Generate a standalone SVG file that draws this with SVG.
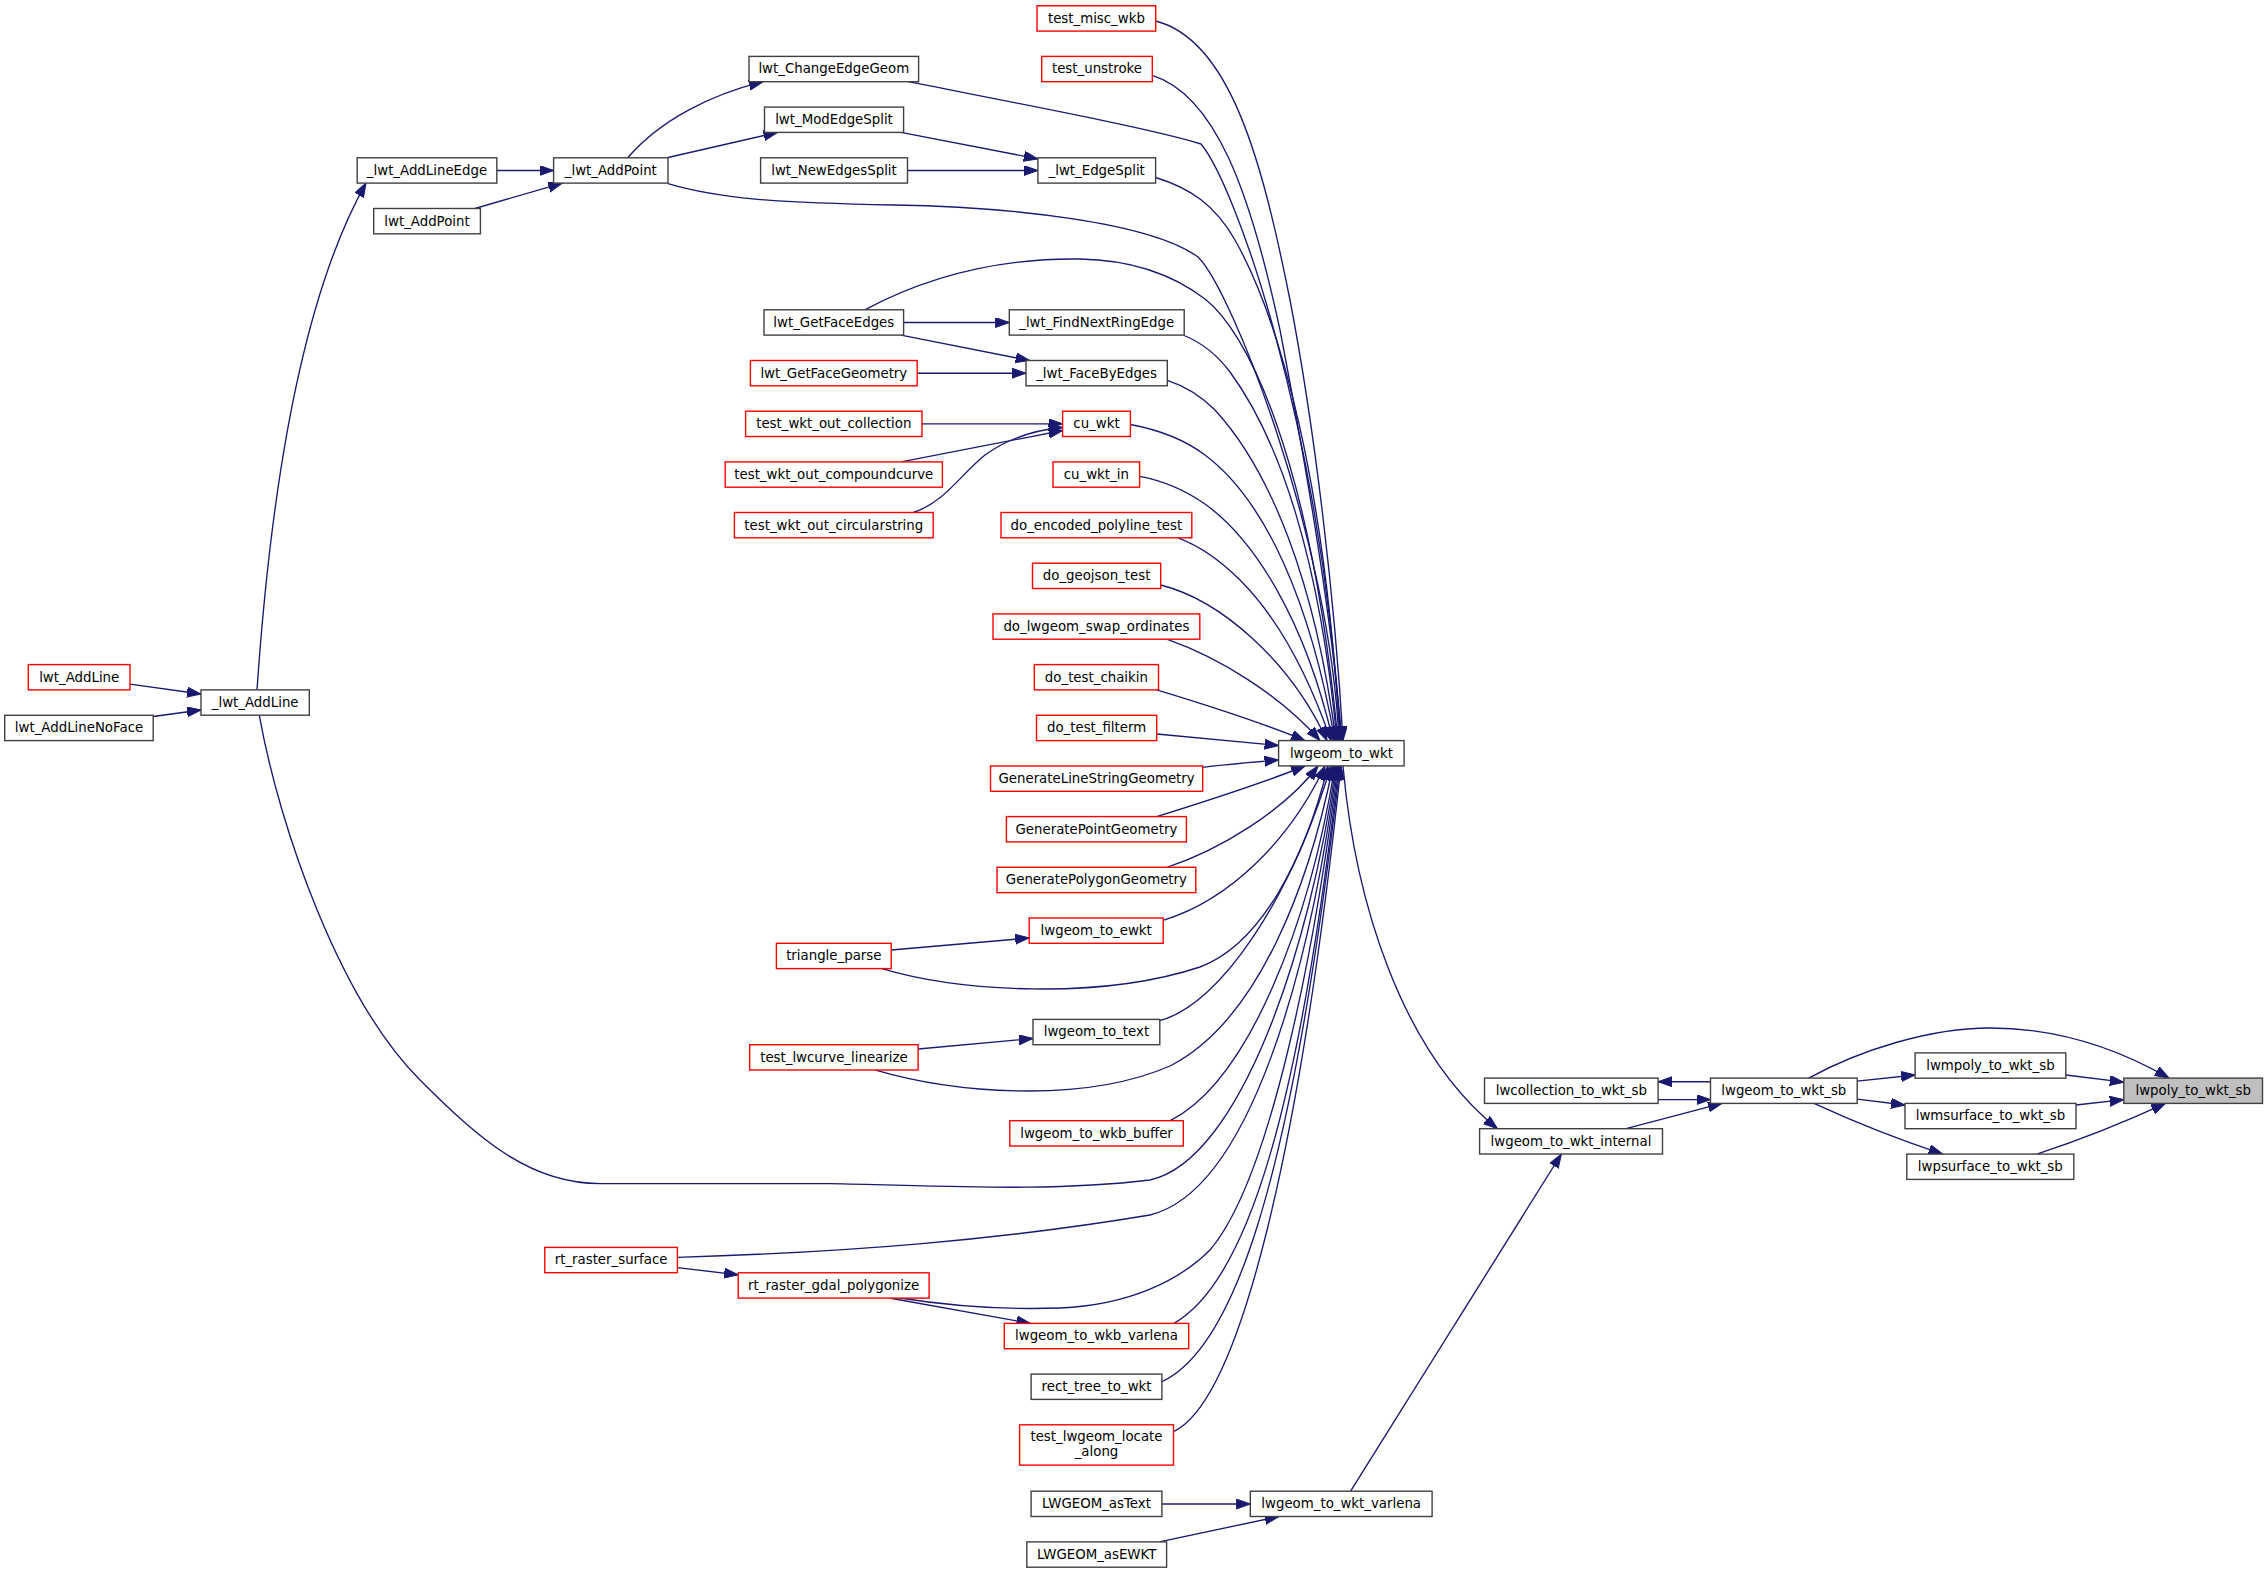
<svg xmlns="http://www.w3.org/2000/svg" width="2268" height="1573" viewBox="0 0 2268 1573">
<style>
.node rect{fill:#ffffff;stroke:#404040;stroke-width:1.4}
.node.red rect{stroke:#ff0000}
.node.main rect{fill:#bfbfbf}
.node text{font-family:"DejaVu Sans","Liberation Sans",sans-serif;font-size:13.33px;fill:#000000;text-anchor:middle}
#edges path{fill:none;stroke:#191970;stroke-width:1.35;marker-end:url(#ah)}
</style>
<defs>
<marker id="ah" markerUnits="userSpaceOnUse" markerWidth="16" markerHeight="12" refX="14" refY="5" orient="auto">
<path d="M0,0 L14,5 L0,10 z" fill="#191970" stroke="#191970" stroke-width="1"/>
</marker>
</defs>
<rect x="0" y="0" width="2268" height="1573" fill="#ffffff"/>
<g id="edges">
<path d="M1155.7,21 C1230,40 1262,160 1290,300 C1315,430 1335,600 1343,740.6"/>
<path d="M1152.3,75.3 C1215,95 1250,190 1280,330 C1303,450 1330,600 1342,740.6"/>
<path d="M908.4,81.7 C1000,100 1150,128 1201,144 C1235,185 1320,420 1341,740.6"/>
<path d="M1155.6,177.5 C1190,188 1215,205 1235,240 C1280,320 1325,480 1340,740.6"/>
<path d="M668,183.6 C720,199 780,203 894,205 C1010,207 1150,222 1198,257 C1232,290 1330,540 1339,740.6"/>
<path d="M864.8,309.8 C930,275 1000,258 1080,259 C1140,260 1180,280 1205,299 C1245,330 1310,450 1338,740.6"/>
<path d="M1184.2,335.5 C1200,342 1215,352 1230,372 C1280,440 1320,560 1337,740.6"/>
<path d="M1167.3,380.3 C1185,386 1200,395 1215,410 C1270,470 1315,580 1336,740.6"/>
<path d="M1130.4,424.5 C1160,430 1185,440 1205,455 C1265,500 1310,600 1335,740.6"/>
<path d="M1139.6,476.3 C1165,481 1185,490 1205,504 C1255,540 1305,620 1333,740.6"/>
<path d="M1177.9,537.8 C1200,546 1220,560 1240,580 C1280,620 1310,680 1331,740.6"/>
<path d="M1160.7,585 C1220,600 1290,660 1327,740.6"/>
<path d="M1166.7,639.2 C1220,658 1280,695 1320,740.6"/>
<path d="M1156.7,689.9 C1200,703 1260,722 1305,740.6"/>
<path d="M1156.7,734 C1200,738 1240,742 1278.6,745.5"/>
<path d="M1202.7,767.3 C1230,764 1255,762 1278.6,760"/>
<path d="M1156.7,816.6 C1210,800 1265,782 1305,766"/>
<path d="M1167,867.3 C1220,850 1285,810 1318,766"/>
<path d="M1163.2,920.3 C1230,900 1290,840 1325,766"/>
<path d="M881,968.4 C960,992 1100,1000 1200,967 C1260,945 1305,860 1328,766"/>
<path d="M1159.8,1020.6 C1220,1005 1290,900 1331,766"/>
<path d="M874.8,1069.8 C950,1092 1080,1105 1170,1066 C1260,1020 1310,880 1333,766"/>
<path d="M1170.2,1120.7 C1250,1080 1310,920 1335,766"/>
<path d="M259.3,715.4 C280,830 340,1000 420,1080 C480,1140 530,1183.6 600,1183.6 L830,1183.6 C950,1186 1050,1192 1150,1180 C1240,1160 1310,950 1336,766"/>
<path d="M677.4,1257.4 C850,1252 1000,1240 1150,1215 C1250,1190 1310,970 1337,766"/>
<path d="M900,1298 C950,1306 1000,1310 1060,1308 C1130,1305 1180,1280 1210,1250 C1270,1180 1315,950 1338,766"/>
<path d="M889.3,1298 L1030.5,1323.4"/>
<path d="M1173.9,1323.4 C1250,1280 1300,1100 1339,766"/>
<path d="M1161.9,1381.7 C1230,1350 1290,1200 1340,766"/>
<path d="M1173.5,1431.7 C1240,1400 1300,1150 1341,766"/>
<path d="M1343,766 C1355,900 1400,1050 1497.5,1128.7"/>
<path d="M1350.6,1491.2 L1561.4,1154"/>
<path d="M1161.9,1504 L1250.3,1504"/>
<path d="M1159.4,1541.9 L1278.9,1516.5"/>
<path d="M1626,1128.7 L1722,1103.4"/>
<path d="M1658.1,1099.6 L1710.5,1099.6"/>
<path d="M1710.5,1081.7 L1658.1,1081.7"/>
<path d="M1857.2,1081.1 L1915.1,1075"/>
<path d="M1857.2,1099.2 L1905,1105"/>
<path d="M1814,1103.4 C1850,1120 1900,1140 1942.7,1154.1"/>
<path d="M1808.7,1078.1 C1860,1050 1930,1028 1990,1028 C2060,1028 2120,1050 2169,1078.1"/>
<path d="M2065.8,1075 L2123.8,1082.2"/>
<path d="M2076,1105 L2123.8,1099.6"/>
<path d="M2036.8,1154.1 C2080,1140 2125,1122 2165.4,1103.4"/>
<path d="M257,689.9 C270,500 300,300 366,183.1"/>
<path d="M130,684.2 L201,694"/>
<path d="M153.2,716.5 L201,710"/>
<path d="M496.8,170.5 L553.6,170.5"/>
<path d="M475,208.5 L562.3,183.1"/>
<path d="M627.7,157.8 C660,120 710,95 763,81.7"/>
<path d="M668,157.5 L777.6,132.4"/>
<path d="M901,132.4 L1037.9,158.9"/>
<path d="M907.5,170.5 L1037.9,170.5"/>
<path d="M903.6,322.5 L1009.3,322.5"/>
<path d="M901,335.1 L1029.6,360.5"/>
<path d="M917.2,373.2 L1026,373.2"/>
<path d="M922,423.8 L1062.6,423.8"/>
<path d="M901.2,461.9 L1062.6,430.5"/>
<path d="M913.3,512.5 C945,502 960,475 985,455 C1010,437 1035,430 1062.6,427.5"/>
<path d="M891.2,950 L1029.2,938"/>
<path d="M918.1,1049 L1033,1038.5"/>
<path d="M677.4,1267.6 L738.2,1274.8"/>
</g>
<g id="n_test_misc_wkb" class="node red"><rect x="1037" y="5.8" width="118.7" height="25.3"/><text x="1096.4" y="22.8">test_misc_wkb</text></g>
<g id="n_test_unstroke" class="node red"><rect x="1041.7" y="56.4" width="110.6" height="25.3"/><text x="1097" y="73.4">test_unstroke</text></g>
<g id="n_lwt_ChangeEdgeGeom" class="node"><rect x="749" y="56.4" width="169.6" height="25.3"/><text x="833.8" y="73.4">lwt_ChangeEdgeGeom</text></g>
<g id="n_lwt_ModEdgeSplit" class="node"><rect x="764.5" y="107.1" width="139.1" height="25.3"/><text x="834" y="124.1">lwt_ModEdgeSplit</text></g>
<g id="n__lwt_AddLineEdge" class="node"><rect x="357.2" y="157.8" width="139.6" height="25.3"/><text x="427" y="174.8">_lwt_AddLineEdge</text></g>
<g id="n__lwt_AddPoint" class="node"><rect x="553.6" y="157.8" width="114.4" height="25.3"/><text x="610.8" y="174.8">_lwt_AddPoint</text></g>
<g id="n_lwt_NewEdgesSplit" class="node"><rect x="760.6" y="157.8" width="146.9" height="25.3"/><text x="834" y="174.8">lwt_NewEdgesSplit</text></g>
<g id="n__lwt_EdgeSplit" class="node"><rect x="1037.9" y="157.8" width="117.7" height="25.3"/><text x="1096.7" y="174.8">_lwt_EdgeSplit</text></g>
<g id="n_lwt_AddPoint" class="node"><rect x="373.7" y="208.5" width="106.7" height="25.3"/><text x="427" y="225.5">lwt_AddPoint</text></g>
<g id="n_lwt_GetFaceEdges" class="node"><rect x="764" y="309.8" width="139.6" height="25.3"/><text x="833.8" y="326.8">lwt_GetFaceEdges</text></g>
<g id="n__lwt_FindNextRingEdge" class="node"><rect x="1009.3" y="309.8" width="174.9" height="25.3"/><text x="1096.7" y="326.8">_lwt_FindNextRingEdge</text></g>
<g id="n_lwt_GetFaceGeometry" class="node red"><rect x="750.4" y="360.5" width="166.8" height="25.3"/><text x="833.8" y="377.5">lwt_GetFaceGeometry</text></g>
<g id="n__lwt_FaceByEdges" class="node"><rect x="1026" y="360.5" width="141.3" height="25.3"/><text x="1096.6" y="377.5">_lwt_FaceByEdges</text></g>
<g id="n_test_wkt_out_collection" class="node red"><rect x="745.6" y="411.2" width="176.4" height="25.3"/><text x="833.8" y="428.2">test_wkt_out_collection</text></g>
<g id="n_cu_wkt" class="node red"><rect x="1062.6" y="411.2" width="67.8" height="25.3"/><text x="1096.5" y="428.2">cu_wkt</text></g>
<g id="n_test_wkt_out_compoundcurve" class="node red"><rect x="725.2" y="461.9" width="217.2" height="25.3"/><text x="833.8" y="478.9">test_wkt_out_compoundcurve</text></g>
<g id="n_cu_wkt_in" class="node red"><rect x="1053" y="461.9" width="86.6" height="25.3"/><text x="1096.3" y="478.9">cu_wkt_in</text></g>
<g id="n_test_wkt_out_circularstring" class="node red"><rect x="734.4" y="512.5" width="198.8" height="25.3"/><text x="833.8" y="529.5">test_wkt_out_circularstring</text></g>
<g id="n_do_encoded_polyline_test" class="node red"><rect x="1001" y="512.5" width="190.8" height="25.3"/><text x="1096.4" y="529.5">do_encoded_polyline_test</text></g>
<g id="n_do_geojson_test" class="node red"><rect x="1032.5" y="563.2" width="128.2" height="25.3"/><text x="1096.6" y="580.2">do_geojson_test</text></g>
<g id="n_do_lwgeom_swap_ordinates" class="node red"><rect x="993" y="613.9" width="206.8" height="25.3"/><text x="1096.4" y="630.9">do_lwgeom_swap_ordinates</text></g>
<g id="n_do_test_chaikin" class="node red"><rect x="1034.3" y="664.6" width="124.2" height="25.3"/><text x="1096.4" y="681.6">do_test_chaikin</text></g>
<g id="n_lwt_AddLine" class="node red"><rect x="28.3" y="664.6" width="101.7" height="25.3"/><text x="79.2" y="681.6">lwt_AddLine</text></g>
<g id="n__lwt_AddLine" class="node"><rect x="201" y="689.9" width="108.3" height="25.3"/><text x="255.2" y="706.9">_lwt_AddLine</text></g>
<g id="n_lwt_AddLineNoFace" class="node"><rect x="4.7" y="715.3" width="148.5" height="25.3"/><text x="79" y="732.3">lwt_AddLineNoFace</text></g>
<g id="n_do_test_filterm" class="node red"><rect x="1036.5" y="715.3" width="120.2" height="25.3"/><text x="1096.6" y="732.3">do_test_filterm</text></g>
<g id="n_lwgeom_to_wkt" class="node"><rect x="1278.6" y="740.6" width="125.5" height="25.3"/><text x="1341.4" y="757.6">lwgeom_to_wkt</text></g>
<g id="n_GenerateLineStringGeometry" class="node red"><rect x="990.5" y="766" width="212.2" height="25.3"/><text x="1096.6" y="783">GenerateLineStringGeometry</text></g>
<g id="n_GeneratePointGeometry" class="node red"><rect x="1006.4" y="816.6" width="180" height="25.3"/><text x="1096.4" y="833.6">GeneratePointGeometry</text></g>
<g id="n_GeneratePolygonGeometry" class="node red"><rect x="997" y="867.3" width="198.8" height="25.3"/><text x="1096.4" y="884.3">GeneratePolygonGeometry</text></g>
<g id="n_lwgeom_to_ewkt" class="node red"><rect x="1029.2" y="918" width="134" height="25.3"/><text x="1096.2" y="935">lwgeom_to_ewkt</text></g>
<g id="n_triangle_parse" class="node red"><rect x="776.4" y="943.3" width="114.8" height="25.3"/><text x="833.8" y="960.3">triangle_parse</text></g>
<g id="n_lwgeom_to_text" class="node"><rect x="1033" y="1019.4" width="126.8" height="25.3"/><text x="1096.4" y="1036.4">lwgeom_to_text</text></g>
<g id="n_test_lwcurve_linearize" class="node red"><rect x="749.7" y="1044.7" width="168.4" height="25.3"/><text x="833.9" y="1061.7">test_lwcurve_linearize</text></g>
<g id="n_lwmpoly_to_wkt_sb" class="node"><rect x="1915.1" y="1052.9" width="150.7" height="25.3"/><text x="1990.4" y="1069.9">lwmpoly_to_wkt_sb</text></g>
<g id="n_lwcollection_to_wkt_sb" class="node"><rect x="1484.5" y="1078.1" width="173.6" height="25.3"/><text x="1571.3" y="1095.1">lwcollection_to_wkt_sb</text></g>
<g id="n_lwgeom_to_wkt_sb" class="node"><rect x="1710.5" y="1078.1" width="146.7" height="25.3"/><text x="1783.8" y="1095.1">lwgeom_to_wkt_sb</text></g>
<g id="n_lwpoly_to_wkt_sb" class="node main"><rect x="2123.8" y="1078.1" width="138.7" height="25.3"/><text x="2193.2" y="1095.1">lwpoly_to_wkt_sb</text></g>
<g id="n_lwmsurface_to_wkt_sb" class="node"><rect x="1905" y="1103.4" width="171" height="25.3"/><text x="1990.5" y="1120.4">lwmsurface_to_wkt_sb</text></g>
<g id="n_lwgeom_to_wkb_buffer" class="node red"><rect x="1009.8" y="1120.7" width="173.5" height="25.3"/><text x="1096.5" y="1137.7">lwgeom_to_wkb_buffer</text></g>
<g id="n_lwgeom_to_wkt_internal" class="node"><rect x="1479.6" y="1128.7" width="182.9" height="25.3"/><text x="1571" y="1145.7">lwgeom_to_wkt_internal</text></g>
<g id="n_lwpsurface_to_wkt_sb" class="node"><rect x="1906.8" y="1154.1" width="167" height="25.3"/><text x="1990.3" y="1171.1">lwpsurface_to_wkt_sb</text></g>
<g id="n_rt_raster_surface" class="node red"><rect x="544.8" y="1247.4" width="132.6" height="25.3"/><text x="611.1" y="1264.4">rt_raster_surface</text></g>
<g id="n_rt_raster_gdal_polygonize" class="node red"><rect x="738.2" y="1272.8" width="190.9" height="25.3"/><text x="833.6" y="1289.8">rt_raster_gdal_polygonize</text></g>
<g id="n_lwgeom_to_wkb_varlena" class="node red"><rect x="1004.3" y="1323.4" width="184.4" height="25.3"/><text x="1096.5" y="1340.4">lwgeom_to_wkb_varlena</text></g>
<g id="n_rect_tree_to_wkt" class="node"><rect x="1031.1" y="1374.1" width="130.8" height="25.3"/><text x="1096.5" y="1391.1">rect_tree_to_wkt</text></g>
<g id="n_test_lwgeom_locate_along" class="node red"><rect x="1019.6" y="1424.8" width="153.9" height="40.3"/><text x="1096.5" y="1441">test_lwgeom_locate</text><text x="1096.5" y="1455.5">_along</text></g>
<g id="n_LWGEOM_asText" class="node"><rect x="1031.1" y="1491.2" width="130.8" height="25.3"/><text x="1096.5" y="1508.2">LWGEOM_asText</text></g>
<g id="n_lwgeom_to_wkt_varlena" class="node"><rect x="1250.3" y="1491.2" width="181.8" height="25.3"/><text x="1341.2" y="1508.2">lwgeom_to_wkt_varlena</text></g>
<g id="n_LWGEOM_asEWKT" class="node"><rect x="1026.8" y="1541.9" width="139.8" height="25.3"/><text x="1096.7" y="1558.9">LWGEOM_asEWKT</text></g>
</svg>
